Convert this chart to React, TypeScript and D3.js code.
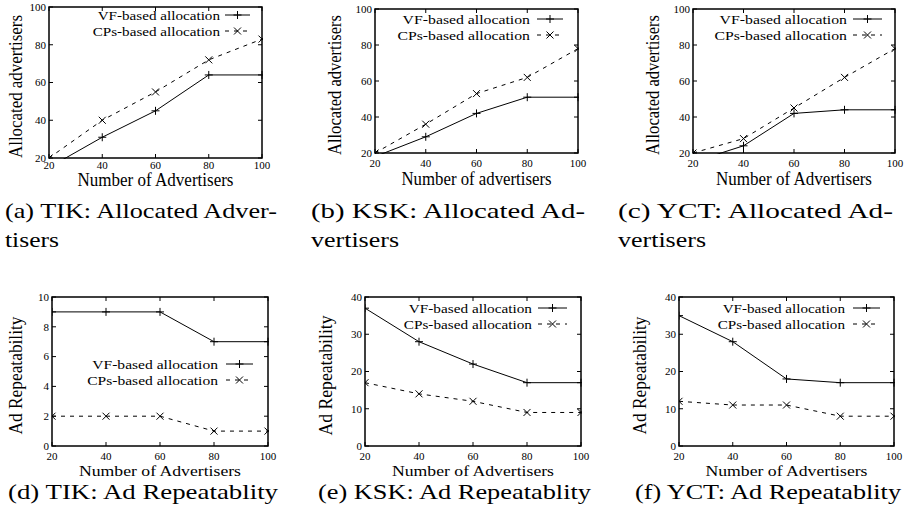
// App.tsx
import React from 'react';
import * as d3 from 'd3';

// x positions shared by every panel
const advertisers = [20, 40, 60, 80, 100];

// allocated advertisers
const tikAllocVF = [15, 31, 45, 64, 64];
const tikAllocCP = [20, 40, 55, 72, 83];
const kskAllocVF = [18, 29, 42, 51, 51];
const kskAllocCP = [20, 36, 53, 62, 78];
const yctAllocVF = [15, 24, 42, 44, 44];
const yctAllocCP = [20, 28, 45, 62, 78];

// ad repeatability
const tikRepVF = [9, 9, 9, 7, 7];
const tikRepCP = [2, 2, 2, 1, 1];
const kskRepVF = [37, 28, 22, 17, 17];
const kskRepCP = [17, 14, 12, 9, 9];
const yctRepVF = [35, 28, 18, 17, 17];
const yctRepCP = [12, 11, 11, 8, 8];

// ticks
const xTicks = [20, 40, 60, 80, 100];
const allocTicks = [20, 40, 60, 80, 100];
const tikRepTicks = [0, 2, 4, 6, 8, 10];
const repTicks = [0, 10, 20, 30, 40];

const seriesNames = ['VF-based allocation', 'CPs-based allocation'];

const FONT = '"Liberation Serif", "Times New Roman", serif';

type Panel = {
  id: string;
  vf: number[];
  cp: number[];
  yTicks: number[];
  box: { l: number; r: number; t: number; b: number };
  xLabel: string;
  xLabelY: number;
  xLabelW: number;
  xLabelSize: number;
  xTickY: number;
  yLabel: string;
  yLabelX: number;
  yLabelW: number;
  leg: { x: number; y1: number; y2: number; s0: number; s1: number; em: number };
};

const panels: Panel[] = [
  { id: 'a', vf: tikAllocVF, cp: tikAllocCP, yTicks: allocTicks,
    box: { l: 49, r: 262, t: 7, b: 158 }, xLabel: 'Number of Advertisers', xLabelY: 186, xLabelW: 156, xLabelSize: 18, xTickY: 169,
    yLabel: 'Allocated advertisers', yLabelX: 22, yLabelW: 143, leg: { x: 220, y1: 15, y2: 31, s0: 225, s1: 250, em: 14.6 } },
  { id: 'b', vf: kskAllocVF, cp: kskAllocCP, yTicks: allocTicks,
    box: { l: 375, r: 578, t: 9, b: 153 }, xLabel: 'Number of advertisers', xLabelY: 185, xLabelW: 150, xLabelSize: 18, xTickY: 167,
    yLabel: 'Allocated advertisers', yLabelX: 341, yLabelW: 140, leg: { x: 530, y1: 19, y2: 35, s0: 537, s1: 563, em: 15.2 } },
  { id: 'c', vf: yctAllocVF, cp: yctAllocCP, yTicks: allocTicks,
    box: { l: 693, r: 895, t: 9, b: 153 }, xLabel: 'Number of Advertisers', xLabelY: 185, xLabelW: 156, xLabelSize: 18, xTickY: 167,
    yLabel: 'Allocated advertisers', yLabelX: 659, yLabelW: 140, leg: { x: 847, y1: 19, y2: 35, s0: 853, s1: 882, em: 15.2 } },
  { id: 'd', vf: tikRepVF, cp: tikRepCP, yTicks: tikRepTicks,
    box: { l: 52, r: 268, t: 297, b: 446 }, xLabel: 'Number of Advertisers', xLabelY: 476, xLabelW: 162, xLabelSize: 15, xTickY: 460,
    yLabel: 'Ad Repeatability', yLabelX: 22, yLabelW: 118, leg: { x: 218, y1: 364, y2: 380, s0: 226, s1: 253, em: 15 } },
  { id: 'e', vf: kskRepVF, cp: kskRepCP, yTicks: repTicks,
    box: { l: 365, r: 581, t: 297, b: 446 }, xLabel: 'Number of Advertisers', xLabelY: 476, xLabelW: 162, xLabelSize: 15, xTickY: 460,
    yLabel: 'Ad Repeatability', yLabelX: 332, yLabelW: 120, leg: { x: 532, y1: 308, y2: 324, s0: 538, s1: 567, em: 14.7 } },
  { id: 'f', vf: yctRepVF, cp: yctRepCP, yTicks: repTicks,
    box: { l: 679, r: 894, t: 297, b: 446 }, xLabel: 'Number of Advertisers', xLabelY: 476, xLabelW: 162, xLabelSize: 15, xTickY: 460,
    yLabel: 'Ad Repeatability', yLabelX: 646, yLabelW: 118, leg: { x: 845, y1: 308, y2: 324, s0: 853, s1: 880, em: 14.6 } },
];

// legend text widths in em of the serif font (used with the per-panel stretch)
const legendEm = [8.38, 8.72];

const captions = [
  { text: '(a) TIK: Allocated Adver-', x: 5, y: 218, w: 272, size: 22 },
  { text: 'tisers', x: 5, y: 247, w: 54, size: 22 },
  { text: '(b) KSK: Allocated Ad-', x: 311, y: 218, w: 274, size: 22 },
  { text: 'vertisers', x: 311, y: 247, w: 88, size: 22 },
  { text: '(c) YCT: Allocated Ad-', x: 618, y: 218, w: 275, size: 22 },
  { text: 'vertisers', x: 618, y: 247, w: 88, size: 22 },
  { text: '(d) TIK: Ad Repeatablity', x: 8, y: 499, w: 270, size: 21.5 },
  { text: '(e) KSK: Ad Repeatablity', x: 318, y: 499, w: 273, size: 21.5 },
  { text: '(f) YCT: Ad Repeatablity', x: 635, y: 499, w: 266, size: 21.5 },
];

const Plus = ({ x, y }: { x: number; y: number }) => (
  <path d={`M${x - 4},${y}H${x + 4}M${x},${y - 4}V${y + 4}`} stroke="#000" strokeWidth={1} />
);
const Cross = ({ x, y }: { x: number; y: number }) => (
  <path d={`M${x - 3.5},${y - 3.5}L${x + 3.5},${y + 3.5}M${x - 3.5},${y + 3.5}L${x + 3.5},${y - 3.5}`} stroke="#000" strokeWidth={1} />
);

const PanelChart = ({ p }: { p: Panel }) => {
  const { box, leg } = p;
  const x = d3.scaleLinear().domain([20, 100]).range([box.l, box.r]);
  const y = d3.scaleLinear().domain(d3.extent(p.yTicks) as [number, number]).range([box.b, box.t]);
  const line = d3.line<number>().x((_, i) => x(advertisers[i])).y(d => y(d));
  const clipId = `clip-${p.id}`;
  const tl = 4;
  return (
    <g>
      <defs>
        <clipPath id={clipId}>
          <rect x={box.l} y={box.t - 1} width={box.r - box.l + 1} height={box.b - box.t + 2} />
        </clipPath>
      </defs>
      {/* ticks on all four sides */}
      {xTicks.map(t => (
        <g key={`x${t}`}>
          <line x1={x(t)} x2={x(t)} y1={box.b} y2={box.b - tl} stroke="#000" />
          <line x1={x(t)} x2={x(t)} y1={box.t} y2={box.t + tl} stroke="#000" />
          <text x={x(t)} y={p.xTickY} textAnchor="middle" fontSize={11} fontFamily={FONT}>{t}</text>
        </g>
      ))}
      {p.yTicks.map(t => (
        <g key={`y${t}`}>
          <line x1={box.l} x2={box.l + tl} y1={y(t)} y2={y(t)} stroke="#000" />
          <line x1={box.r} x2={box.r - tl} y1={y(t)} y2={y(t)} stroke="#000" />
          <text x={box.l - 3} y={y(t)} dy="0.35em" textAnchor="end" fontSize={11} fontFamily={FONT}>{t}</text>
        </g>
      ))}
      <g clipPath={`url(#${clipId})`}>
        <path d={line(p.vf) ?? ''} fill="none" stroke="#000" strokeWidth={1} />
        <path d={line(p.cp) ?? ''} fill="none" stroke="#000" strokeWidth={1} strokeDasharray="4,5" />
        {p.vf.map((v, i) => (y(v) <= box.b + 0.5 ? <Plus key={`p${i}`} x={x(advertisers[i])} y={y(v)} /> : null))}
        {p.cp.map((v, i) => (y(v) <= box.b + 0.5 ? <Cross key={`c${i}`} x={x(advertisers[i])} y={y(v)} /> : null))}
      </g>
      <rect x={box.l} y={box.t} width={box.r - box.l} height={box.b - box.t} fill="none" stroke="#000" strokeWidth={1.5} />
      {/* legend */}
      {[leg.y1, leg.y2].map((ly, i) => {
        const w = legendEm[i] * leg.em;
        return (
          <g key={`leg${i}`}>
            <text x={leg.x - w} y={ly} dy="0.35em" fontSize={13.5} fontFamily={FONT}
              textLength={w} lengthAdjust="spacingAndGlyphs">{seriesNames[i]}</text>
            <line x1={leg.s0} x2={leg.s1} y1={ly} y2={ly} stroke="#000" strokeDasharray={i === 1 ? '4,5' : undefined} />
            {i === 0 ? <Plus x={(leg.s0 + leg.s1) / 2} y={ly} /> : <Cross x={(leg.s0 + leg.s1) / 2} y={ly} />}
          </g>
        );
      })}
      {/* axis labels */}
      <text x={(box.l + box.r) / 2 - p.xLabelW / 2} y={p.xLabelY} fontSize={p.xLabelSize} fontFamily={FONT}
        textLength={p.xLabelW} lengthAdjust="spacingAndGlyphs">{p.xLabel}</text>
      <text transform={`translate(${p.yLabelX},${(box.t + box.b) / 2 + 4 + p.yLabelW / 2}) rotate(-90)`}
        fontSize={18} fontFamily={FONT} textLength={p.yLabelW} lengthAdjust="spacingAndGlyphs">{p.yLabel}</text>
    </g>
  );
};

const App = () => (
  <svg width={921} height={521} style={{ position: 'absolute', left: 0, top: 0, background: '#fff' }}>
    <rect width={921} height={521} fill="#fff" />
    {panels.map(p => <PanelChart key={p.id} p={p} />)}
    {captions.map((c, i) => (
      <text key={i} x={c.x} y={c.y} fontSize={c.size} fontFamily={FONT} textLength={c.w} lengthAdjust="spacingAndGlyphs">{c.text}</text>
    ))}
  </svg>
);

export default App;
